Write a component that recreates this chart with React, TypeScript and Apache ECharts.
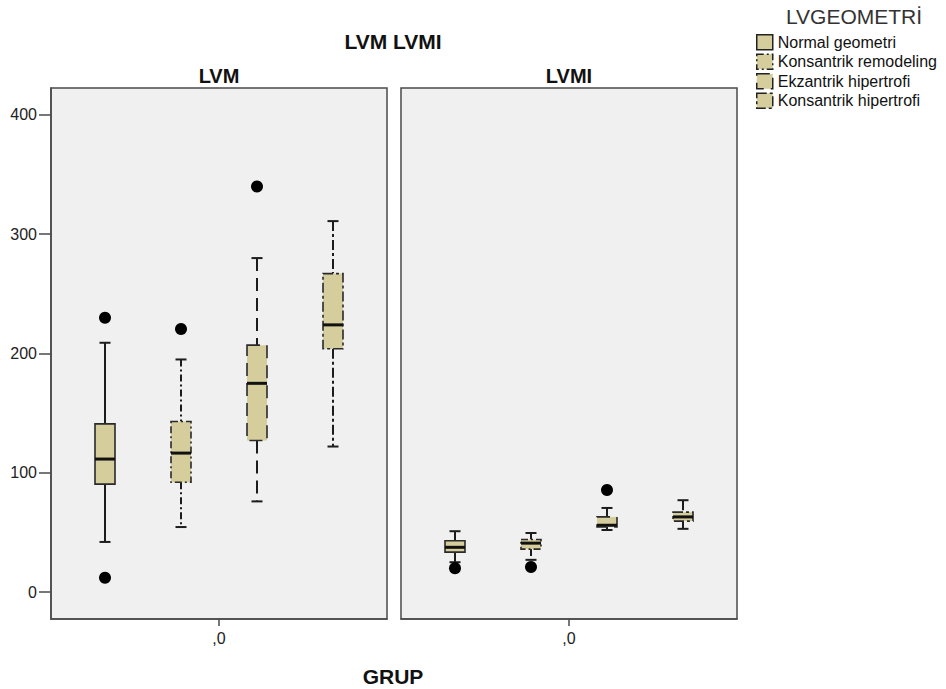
import React, { useEffect, useRef } from 'react';
import * as echarts from 'echarts';

const categories = ['Normal geometri', 'Konsantrik remodeling', 'Ekzantrik hipertrofi', 'Konsantrik hipertrofi'];
// [min, Q1, median, Q3, max]
const lvmStats = [
  [42, 90.5, 111.5, 141, 209],
  [54.5, 92, 116.5, 143, 195],
  [76, 127, 175, 207, 280],
  [122, 204, 224, 267, 311],
];
const lvmiStats = [
  [25, 33.5, 37.5, 43, 51],
  [27, 36, 41, 44, 49.5],
  [52, 54.5, 56, 63, 70.5],
  [53, 59.5, 63, 67, 77],
];
const lvmOutliers = [[0, 230], [0, 12], [1, 220.5], [2, 340]];
const lvmiOutliers = [[0, 20], [1, 21], [2, 85.5]];
const yTicks = [0, 100, 200, 300, 400];
const panelTitles = ['LVM', 'LVMI'];
const groupLabels = [',0'];
const mainTitle = 'LVM LVMI';
const legendTitle = 'LVGEOMETRİ';
const xTitle = 'GRUP';

const FONT = 'Liberation Sans, Arial, sans-serif';
const FILL = '#d5cd9b';
const dashes: (number[] | null)[] = [null, [7, 3, 2, 3], [13, 7], [10, 3, 3, 3]];

const makeRender = (dash: number[] | null) => (params: any, api: any) => {
  const x = api.value(0);
  const p = [1, 2, 3, 4, 5].map((i) => api.coord([x, api.value(i)]));
  const cx = p[0][0];
  const hw = 10;
  const cw = 5.5;
  const lineDash = dash || undefined;
  const ws = { stroke: '#1c1c1c', lineWidth: 2, lineDash, fill: null };
  const cs = { stroke: '#1c1c1c', lineWidth: 2, fill: null };
  return {
    type: 'group',
    children: [
      { type: 'line', shape: { x1: cx, y1: p[4][1], x2: cx, y2: p[3][1] }, style: ws },
      { type: 'line', shape: { x1: cx, y1: p[1][1], x2: cx, y2: p[0][1] }, style: ws },
      { type: 'line', shape: { x1: cx - cw, y1: p[4][1], x2: cx + cw, y2: p[4][1] }, style: cs },
      { type: 'line', shape: { x1: cx - cw, y1: p[0][1], x2: cx + cw, y2: p[0][1] }, style: cs },
      {
        type: 'rect',
        shape: { x: cx - hw, y: p[3][1], width: hw * 2, height: p[1][1] - p[3][1] },
        style: { fill: FILL, stroke: '#2a2a2a', lineWidth: 1.6, lineDash },
      },
      { type: 'line', shape: { x1: cx - hw, y1: p[2][1], x2: cx + hw, y2: p[2][1] }, style: { stroke: '#111', lineWidth: 3 } },
    ],
  };
};

export default function App() {
  const ref = useRef<HTMLDivElement>(null);
  useEffect(() => {
    if (!ref.current) return;
    const chart = echarts.init(ref.current, null, { renderer: 'svg' });
    const yMin = -22.6;
    const yMax = 422.6;
    const frameLefts = [51, 401];
    const dataLefts = [67, 417];
    const top = 88;
    const height = 531;

    const grids: any[] = [
      ...frameLefts.map((l) => ({
        left: l, top, width: 336, height, show: true,
        backgroundColor: '#f0f0f0', borderColor: '#4a4a4a', borderWidth: 1.5,
      })),
      ...dataLefts.map((l) => ({ left: l, top, width: 304, height, show: false })),
    ];

    const xAxes: any[] = [
      ...[0, 1].map((g) => ({
        type: 'category', gridIndex: g, data: groupLabels, boundaryGap: true, position: 'bottom',
        axisLine: { show: true, onZero: false, lineStyle: { color: '#4a4a4a', width: 1.5 } },
        axisTick: { show: true, alignWithLabel: true, length: 7, lineStyle: { color: '#4a4a4a', width: 1.5 } },
        axisLabel: { fontSize: 16, color: '#222', fontFamily: FONT, margin: 11 },
        splitLine: { show: false },
      })),
      ...[2, 3].map((g) => ({
        type: 'category', gridIndex: g, data: categories, boundaryGap: true, show: false,
        axisLine: { onZero: false },
      })),
    ];

    const yAxes: any[] = [
      {
        type: 'value', gridIndex: 0, min: yMin, max: yMax,
        axisLine: { show: true, onZero: false, lineStyle: { color: '#4a4a4a', width: 1.5 } },
        axisTick: { show: true, length: 12, customValues: yTicks, lineStyle: { color: '#4a4a4a', width: 1.5 } },
        axisLabel: { customValues: yTicks, fontSize: 16, color: '#222', fontFamily: FONT, margin: 14 },
        splitLine: { show: false },
      },
      { type: 'value', gridIndex: 1, min: yMin, max: yMax, show: false, splitLine: { show: false } },
      { type: 'value', gridIndex: 2, min: yMin, max: yMax, show: false, splitLine: { show: false } },
      { type: 'value', gridIndex: 3, min: yMin, max: yMax, show: false, splitLine: { show: false } },
    ];

    const series: any[] = [];
    [lvmStats, lvmiStats].forEach((stats, p) => {
      categories.forEach((name, i) => {
        series.push({
          type: 'custom', name, xAxisIndex: 2 + p, yAxisIndex: 2 + p,
          renderItem: makeRender(dashes[i]),
          encode: { x: 0, y: [1, 2, 3, 4, 5] },
          itemStyle: { color: FILL, borderColor: '#222' },
          data: [[i, ...stats[i]]],
          z: 3,
        });
      });
    });
    [lvmOutliers, lvmiOutliers].forEach((out, p) => {
      series.push({
        type: 'scatter', name: 'outlier', xAxisIndex: 2 + p, yAxisIndex: 2 + p,
        symbol: 'circle', symbolSize: 12, itemStyle: { color: '#000', opacity: 1 }, data: out, z: 5,
      });
    });

    const txt = (text: string, x: number, y: number, size: number, weight: string, color = '#111') => ({
      type: 'text', x, y,
      style: { text, fontSize: size, fontWeight: weight, fontFamily: FONT, fill: color, textAlign: 'center', textVerticalAlign: 'middle' },
    });

    chart.setOption({
      animation: false,
      backgroundColor: '#ffffff',
      grid: grids,
      xAxis: xAxes,
      yAxis: yAxes,
      series,
      legend: {
        orient: 'vertical', left: 756, top: 34, itemWidth: 16, itemHeight: 15, itemGap: 3, padding: 0,
        selectedMode: false,
        textStyle: { fontSize: 16, color: '#111', fontFamily: FONT, lineHeight: 15 },
        data: categories.map((n, i) => ({
          name: n, icon: 'rect',
          itemStyle: { color: FILL, borderColor: '#222', borderWidth: 1.5, borderType: dashes[i] || 'solid' },
        })),
      },
      graphic: [
        txt(mainTitle, 393, 41, 21, 'bold'),
        txt(panelTitles[0], 219, 76, 20, 'bold'),
        txt(panelTitles[1], 569, 76, 20, 'bold'),
        txt(xTitle, 393, 676, 21, 'bold'),
        txt(legendTitle, 854, 16, 21, 'normal', '#333'),
      ],
    });
    return () => chart.dispose();
  }, []);
  return <div ref={ref} style={{ position: 'fixed', left: 0, top: 0, width: 946, height: 689 }} />;
}
